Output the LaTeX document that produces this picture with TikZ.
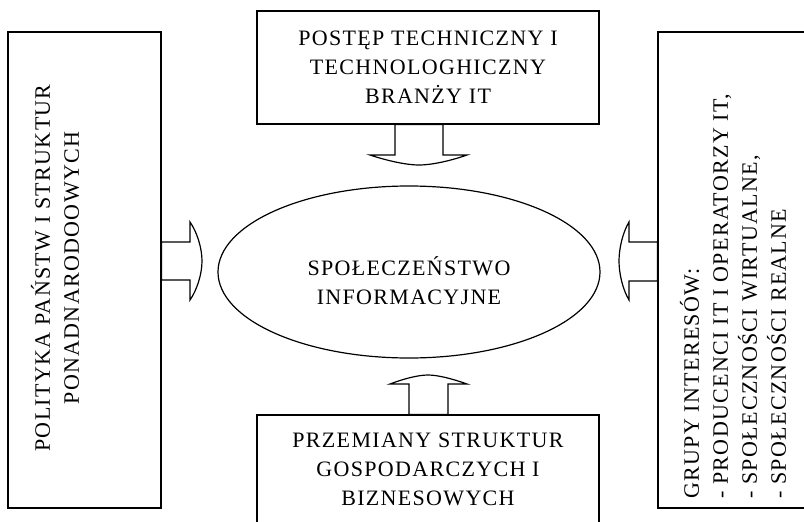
\documentclass[tikz,border=0pt]{standalone}
\usepackage{fontspec}
\setmainfont{Liberation Serif}[LetterSpace=6]
\usetikzlibrary{shapes.geometric}
\tikzstyle{box} = [rectangle, draw=black, line width=1.2pt, fill=white, inner sep=0pt]
\tikzstyle{oval} = [ellipse, draw=black, line width=1.2pt, minimum width=382pt, minimum height=172pt, inner sep=0pt]
\tikzstyle{txt} = [font=\fontsize{22}{29}\selectfont, align=center, inner sep=0pt]
\tikzstyle{blockarrow} = [draw=black, line width=1.2pt, fill=white]

\begin{document}
\begin{tikzpicture}[x=1pt, y=-1pt]
	\useasboundingbox (0,0) rectangle (804,522);
	\clip (0,0) rectangle (804,522);
	
	\node (pol) [box, minimum width=153pt, minimum height=476pt] at (84.5,270) {};
	\node (postep) [box, txt, minimum width=342pt, minimum height=113pt] at (428,67.5) {POSTĘP TECHNICZNY I\\TECHNOLOGHICZNY\\BRANŻY IT};
	\node (przem) [box, txt, minimum width=342pt, minimum height=109pt] at (428,469.5) {PRZEMIANY STRUKTUR\\GOSPODARCZYCH I\\BIZNESOWYCH};
	\node (grupy) [box, minimum width=153pt, minimum height=476pt] at (734.5,270) {};
	\node (spol) [oval] at (409,272) {};
	
	\node (spol-txt) [txt] at (409,281) {SPOŁECZEŃSTWO\\INFORMACYJNE};
	\node (pol-txt) [txt, rotate=90] at (55,268) {POLITYKA PAŃSTW I STRUKTUR\\PONADNARODOOWYCH};
	\node (grupy-txt) [txt, rotate=90, align=left, anchor=west] at (733,499) {GRUPY INTERESÓW:\\- PRODUCENCI IT I OPERATORZY IT,\\- SPOŁECZNOŚCI WIRTUALNE,\\- SPOŁECZNOŚCI REALNE};
	
	% block arrows
	\draw [blockarrow] (pol.east |- 0,242) -- (190,242) -- (190,222) .. controls (197,232) and (202,248) .. (202,261) .. controls (202,274) and (197,290) .. (190,300) -- (190,280) -- (pol.east |- 0,280) -- cycle;
	\draw [blockarrow] (grupy.west |- 0,242) -- (629,242) -- (629,222) .. controls (623,232) and (619,248) .. (619,261) .. controls (619,274) and (623,290) .. (629,300) -- (629,281) -- (grupy.west |- 0,281) -- cycle;
	\draw [blockarrow] (postep.south -| 395,0) -- (395,155) -- (370,155) .. controls (385,160) and (405,165) .. (419,165) .. controls (433,165) and (453,160) .. (467,155) -- (443,155) -- (postep.south -| 443,0) -- cycle;
	\draw [blockarrow] (przem.north -| 409,0) -- (409,384) -- (390,384) .. controls (403,379) and (418,375) .. (428,375) .. controls (438,375) and (453,379) .. (467,384) -- (448,384) -- (przem.north -| 448,0) -- cycle;
	
\end{tikzpicture}
\end{document}
